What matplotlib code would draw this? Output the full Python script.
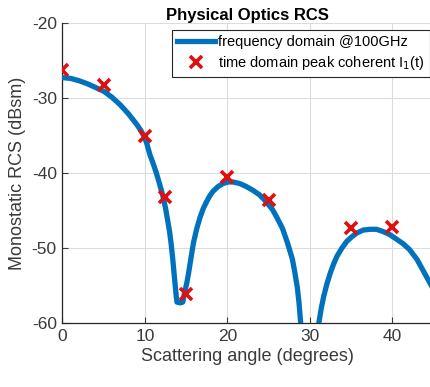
import numpy as np
import matplotlib.pyplot as plt

# frequency-domain PO result @100GHz (angle in degrees, RCS in dBsm)
angle_fd = [0, 1, 2, 3, 4, 5, 6, 7, 8, 9, 9.5, 10, 10.3, 10.6, 11.0, 11.4,
            11.8, 12.2, 12.5, 12.8, 13.0, 13.2, 13.4, 13.6, 13.8, 13.9, 14.3,
            14.6, 14.85, 15.1, 15.3, 15.6, 15.9, 16.3, 16.7, 17.1, 17.5, 17.9,
            18.3, 18.9, 19.5, 20.1, 20.7, 21.5, 22.3, 23.1, 23.9, 24.7, 25.5,
            26.1, 26.7, 27.3, 27.9, 28.2, 28.5, 28.7, 28.9, 29.3, 29.8, 30.4,
            30.9, 31.1, 31.4, 31.7, 32.1, 32.5, 32.9, 33.3, 33.9, 34.5, 35.1,
            35.7, 36.5, 37.3, 38.1, 38.9, 39.7, 40.5, 41.3, 42.1, 43.0, 43.8,
            44.4, 45]
rcs_fd = [-27.3, -27.4, -27.7, -28.1, -28.6, -29.1, -29.9, -30.9, -32.1, -33.5,
          -34.3, -35.3, -36.3, -37.5, -38.7, -40.0, -41.5, -43.1, -44.6, -46.5,
          -47.8, -49.5, -51.6, -54.0, -56.3, -57.2, -57.3, -57.2, -55.8, -54.6,
          -53.4, -51.3, -49.3, -47.4, -45.9, -44.7, -43.8, -43.0, -42.4, -41.8,
          -41.4, -41.2, -41.2, -41.4, -41.8, -42.3, -42.9, -43.8, -44.9, -46.1,
          -47.4, -49.3, -51.5, -53.3, -55.3, -57.3, -60.0, -66.0, -75.0, -72.0,
          -63.0, -60.0, -58.0, -56.4, -54.7, -53.3, -52.1, -51.1, -50.0, -49.1,
          -48.5, -48.0, -47.6, -47.5, -47.5, -47.8, -48.2, -48.8, -49.4, -50.2,
          -51.5, -53.1, -54.3, -55.5]

# time-domain peak coherent samples
angle_td = [0, 5, 10, 12.5, 15, 20, 25, 35, 40]
rcs_td = [-26.3, -28.3, -35.1, -43.2, -56.1, -40.5, -43.6, -47.3, -47.2]

plt.rcParams['font.family'] = ['Liberation Sans', 'DejaVu Sans']
plt.rcParams['axes.unicode_minus'] = False
text_col = '#262626'

fig = plt.figure(figsize=(4.3, 3.87), dpi=100)
ax = fig.add_axes([0.145, 0.165, 0.863, 0.776])

ax.plot(angle_fd, rcs_fd, color='#0072BD', linewidth=3.8,
        solid_joinstyle='round', label='frequency domain @100GHz', zorder=3)
ax.plot(angle_td, rcs_td, linestyle='none', marker='x', color='#E01010',
        markersize=9, markeredgewidth=2.6,
        label='time domain peak coherent I$_1$(t)', zorder=4)

ax.set_xlim(0, 45)
ax.set_ylim(-60, -20)
ax.set_xticks([0, 10, 20, 30, 40])
ax.set_yticks([-60, -50, -40, -30, -20])
ax.grid(True, color='#DCDCDC', linewidth=0.8)
ax.set_axisbelow(True)

for side in ['top', 'right']:
    ax.spines[side].set_visible(False)
for side in ['left', 'bottom']:
    ax.spines[side].set_color(text_col)
    ax.spines[side].set_linewidth(0.9)
ax.tick_params(direction='in', length=4, width=0.8, colors='#3a3a3a',
               labelsize=12.5, pad=4)

ax.set_xlabel('Scattering angle (degrees)', fontsize=13, color='#3a3a3a', labelpad=3)
ax.set_ylabel('Monostatic RCS (dBsm)', fontsize=13, color='#3a3a3a', labelpad=4)
ax.set_title('Physical Optics RCS', fontsize=12, fontweight='bold', pad=1)

leg = ax.legend(loc='upper right', bbox_to_anchor=(0.99, 0.975), fontsize=10.5,
                handlelength=2.6, handletextpad=0.2, borderpad=0.35,
                labelspacing=0.3, fancybox=False, framealpha=1,
                edgecolor=text_col, borderaxespad=0)
leg.get_frame().set_linewidth(0.8)

fig.savefig('out.png', dpi=100)
plt.close(fig)
